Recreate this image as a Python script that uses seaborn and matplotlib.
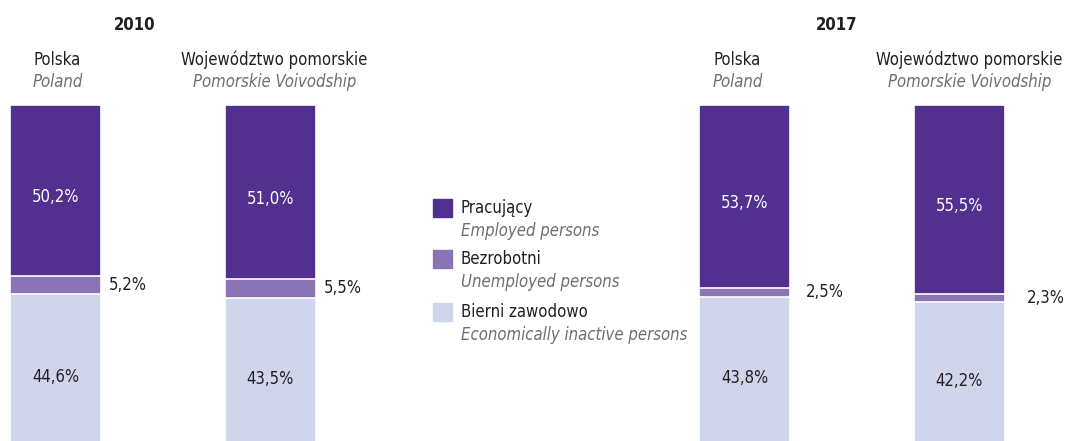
import pandas as pd
import seaborn as sns
import matplotlib.pyplot as plt
from matplotlib.patches import Rectangle

# data (percent shares)
years = ["2010", "2017"]
regions = ["Polska", "Województwo pomorskie"]
regions_en = ["Poland", "Pomorskie Voivodship"]
employed = {"2010": [50.2, 51.0], "2017": [53.7, 55.5]}
unemployed = {"2010": [5.2, 5.5], "2017": [2.5, 2.3]}
inactive = {"2010": [44.6, 43.5], "2017": [43.8, 42.2]}

legend_pl = ["Pracujący", "Bezrobotni", "Bierni zawodowo"]
legend_en = ["Employed persons", "Unemployed persons", "Economically inactive persons"]

c_emp = "#52308f"
c_unemp = "#8a74b6"
c_inact = "#d0d5ec"
c_text = "#231f20"
c_grey = "#6d6e71"

sns.set_theme(style="white")
plt.rcParams["font.family"] = ["DejaVu Sans"]
plt.rcParams["font.stretch"] = "condensed"

W, H = 1066, 441
fig = plt.figure(figsize=(W / 100, H / 100), dpi=100)

def fx(px):
    return px / W

def fy(py):
    return 1 - py / H

fs = 12
bar_w = 0.424
ax_left = {"2010": 10, "2017": 699}
year_x = {"2010": 135, "2017": 837}
head_shift = {"2010": [2, 4], "2017": [-7, 10]}
unemp_gap = {"2010": [8, 8], "2017": [16, 22]}
ax_w = 306
top_px, bot_px = 105, 446

for year in years:
    ax = fig.add_axes([fx(ax_left[year]), fy(bot_px), fx(ax_w), (bot_px - top_px) / H])
    df = pd.DataFrame({
        "region": regions,
        "emp": employed[year],
        "unemp": unemployed[year],
        "inact": inactive[year],
    })
    df["c2"] = df["emp"] + df["unemp"]
    df["c3"] = df["c2"] + df["inact"]
    for col, colr in [("c3", c_inact), ("c2", c_unemp), ("emp", c_emp)]:
        sns.barplot(data=df, x="region", y=col, color=colr, width=bar_w,
                    edgecolor="white", linewidth=1.2, saturation=1, ax=ax)
    ax.set_xlim(-bar_w / 2, 1 + bar_w / 2)
    ax.set_ylim(100, 0)
    ax.axis("off")
    for i, row in df.iterrows():
        ax.text(i, row["emp"] / 2 + 2, f"{row['emp']:.1f}%".replace(".", ","),
                ha="center", va="center", color="white", fontsize=fs)
        ax.text(i, row["c2"] + row["inact"] / 2 + 2, f"{row['inact']:.1f}%".replace(".", ","),
                ha="center", va="center", color=c_text, fontsize=fs)
        ax.annotate(f"{row['unemp']:.1f}%".replace(".", ","),
                    xy=(i + bar_w / 2, row["emp"] + row["unemp"] / 2),
                    xytext=(unemp_gap[year][i], 0), textcoords="offset pixels",
                    ha="left", va="center", color=c_text, fontsize=fs,
                    annotation_clip=False)
        # headers
        dx = head_shift[year][i]
        ax.annotate(row["region"], xy=(i, 0), xytext=(dx, 45), textcoords="offset pixels",
                    ha="center", va="center", color=c_text, fontsize=fs, annotation_clip=False)
        ax.annotate(regions_en[i], xy=(i, 0), xytext=(dx, 23), textcoords="offset pixels",
                    ha="center", va="center", color=c_grey, fontsize=fs, style="italic",
                    annotation_clip=False)
    fig.text(fx(year_x[year]), fy(25), year, ha="center", va="center", color=c_text,
             fontsize=fs, fontweight="bold")

# legend
leg_y = [208, 259, 312]
for k, colr in enumerate([c_emp, c_unemp, c_inact]):
    y = leg_y[k]
    fig.patches.append(Rectangle((fx(433), fy(y + 9)), fx(19), 18 / H, color=colr,
                                 transform=fig.transFigure, figure=fig))
    fig.text(fx(461), fy(y), legend_pl[k], ha="left", va="center", color=c_text, fontsize=fs)
    fig.text(fx(461), fy(y + 23), legend_en[k], ha="left", va="center", color=c_grey,
             fontsize=fs, style="italic")

plt.savefig("out.png", dpi=100)
